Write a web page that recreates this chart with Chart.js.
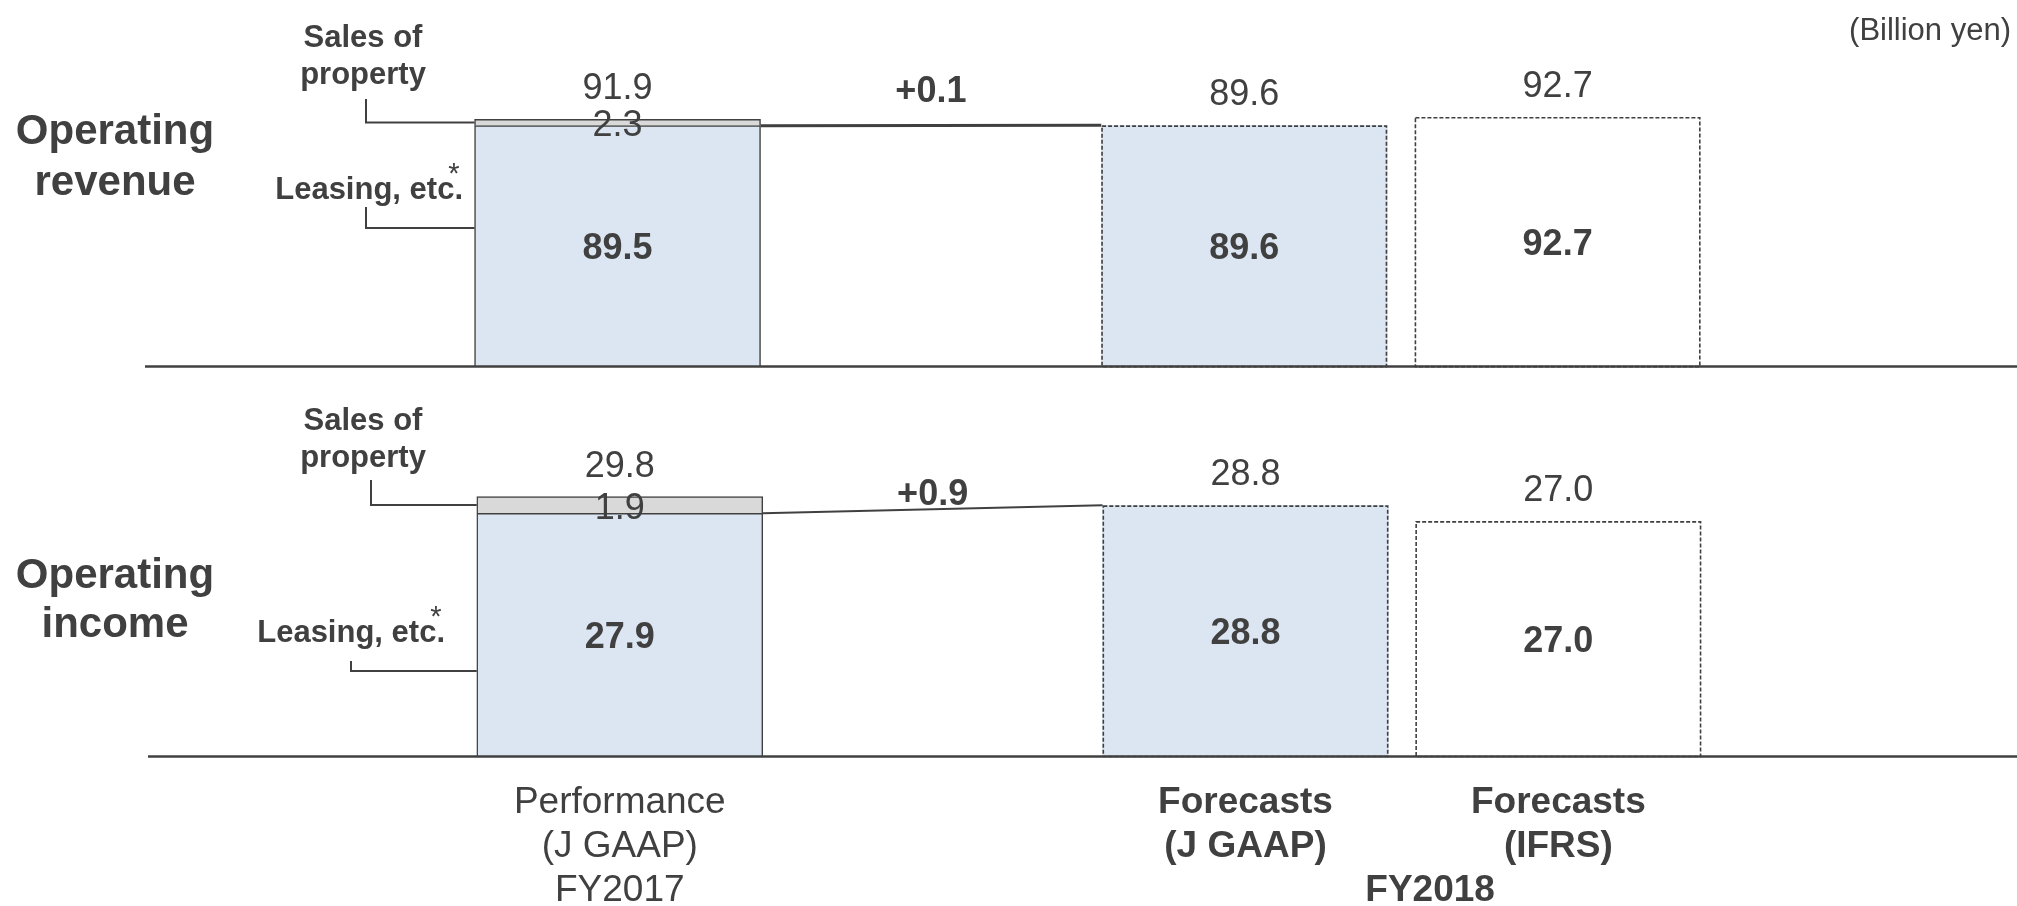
<!DOCTYPE html>
<html>
<head>
<meta charset="utf-8">
<title>Operating revenue and operating income</title>
<script src="https://cdn.jsdelivr.net/npm/chart.js@4.4.0/dist/chart.umd.min.js"></script>
<style>
  html, body { margin: 0; padding: 0; background: #fff; overflow: hidden; }
  #page { position: relative; width: 2017px; height: 906px; }
  canvas { position: absolute; left: 0; }
  #revenueChart { top: 0; }
  #incomeChart { top: 400px; }
</style>
</head>
<body>
<div id="page">
  <canvas id="revenueChart" width="2017" height="400"></canvas>
  <canvas id="incomeChart" width="2017" height="506"></canvas>
</div>
<script>
// x slots for the three bars; slot 2 stays empty for the change label
const slots = [1, 3, 4];
const changeSlot = 2;
const categoryLabels = [
  ['Performance', '(J GAAP)', 'FY2017'],
  ['Forecasts', '(J GAAP)'],
  ['Forecasts', '(IFRS)']
];
const yearLabel = ['', '', 'FY2018'];
const yearSlot = 3.59;
const isForecast = [false, true, true];

// Operating revenue (billion yen)
const revenueLeasing = [89.5, 89.6, null];
const revenueSales = [2.3, null, null];
const revenueIfrs = [null, null, 92.7];
const revenueTotals = [91.9, 89.6, 92.7];

// Operating income (billion yen)
const incomeLeasing = [27.9, 28.8, null];
const incomeSales = [1.9, null, null];
const incomeIfrs = [null, null, 27.0];
const incomeTotals = [29.8, 28.8, 27.0];

const FONT = "'Liberation Sans', Arial, sans-serif";
const TEXT = '#404040';
const BLUE = '#DCE6F2';
const GREY = '#D9D9D9';

function font(size, weight) {
  return (weight || 'normal') + ' ' + size + 'px ' + FONT;
}

function drawText(ctx, str, x, y, f, align, baseline) {
  ctx.font = f;
  ctx.fillStyle = TEXT;
  ctx.textAlign = align || 'center';
  ctx.textBaseline = baseline || 'middle';
  // 'middle' sits the digits a little high, nudge them onto the centre line
  ctx.fillText(str, x, baseline ? y : y + 3);
}

function drawLine(ctx, pts, width) {
  ctx.lineWidth = width;
  ctx.strokeStyle = TEXT;
  ctx.beginPath();
  pts.forEach((p, i) => i ? ctx.lineTo(p[0], p[1]) : ctx.moveTo(p[0], p[1]));
  ctx.stroke();
}

// baseline, dashed forecast outlines, connector, value labels and side notes
const panelDecor = {
  id: 'panelDecor',
  afterDatasetsDraw(chart, args, o) {
    const ctx = chart.ctx;
    const xs = chart.scales.x, ys = chart.scales.y;
    const area = chart.chartArea;
    const props = (di, i) => chart.getDatasetMeta(di).data[i].getProps(['x', 'y', 'base', 'width'], true);
    ctx.save();

    // forecast bars get a dashed outline
    ctx.setLineDash([4, 2]);
    ctx.strokeStyle = TEXT;
    ctx.lineWidth = 1.6;
    [o.leasing, o.sales, o.ifrs].forEach((vals, di) => {
      vals.forEach((v, i) => {
        if (v == null || !isForecast[i]) return;
        const p = props(di, i);
        ctx.strokeRect(p.x - p.width / 2 + 0.8, p.y + 0.8, p.width - 1.6, p.base - p.y - 0.8);
      });
    });
    ctx.setLineDash([]);

    const zero = ys.getPixelForValue(0);
    drawLine(ctx, [[area.left, zero], [area.right, zero]], 2.5);

    // change in leasing between performance and forecast
    const a = props(0, 0), b = props(0, 1);
    drawLine(ctx, [[a.x + a.width / 2, a.y], [b.x - b.width / 2, b.y]], o.connectorWidth);
    const diff = o.leasing[1] - o.leasing[0];
    const cx = xs.getPixelForValue(changeSlot);
    drawText(ctx, (diff >= 0 ? '+' : '') + diff.toFixed(1), cx, (a.y + b.y) / 2 - o.changeLift, font(36, 'bold'));

    // totals above each bar
    o.totals.forEach((t, i) => {
      drawText(ctx, t.toFixed(1), xs.getPixelForValue(slots[i]), ys.getPixelForValue(t) - 33, font(36));
    });
    // segment values
    o.leasing.forEach((v, i) => {
      if (v == null) return;
      const p = props(0, i);
      drawText(ctx, v.toFixed(1), p.x, (p.y + p.base) / 2, font(36, 'bold'));
    });
    o.ifrs.forEach((v, i) => {
      if (v == null) return;
      const p = props(2, i);
      drawText(ctx, v.toFixed(1), p.x, (p.y + p.base) / 2, font(36, 'bold'));
    });
    o.sales.forEach((v, i) => {
      if (v == null) return;
      const p = props(1, i);
      drawText(ctx, v.toFixed(1), p.x, (p.y + p.base) / 2 + 1, font(36));
    });

    // panel title and segment notes
    const n = o.notes;
    n.title.forEach((s, i) => drawText(ctx, s, n.titleX, n.titleY[i], font(42, 'bold'), 'center', 'alphabetic'));
    ['Sales of', 'property'].forEach((s, i) => drawText(ctx, s, n.salesX, n.salesY[i], font(31, 'bold'), 'center', 'alphabetic'));
    drawText(ctx, 'Leasing, etc.', n.leasingRight, n.leasingY, font(31, 'bold'), 'right', 'alphabetic');
    drawText(ctx, '*', n.leasingRight - 9, n.leasingY - 16, font(29), 'center', 'alphabetic');

    const s = props(1, 0);
    const sy = (s.y + s.base) / 2;
    drawLine(ctx, [[n.salesLeaderX, n.salesLeaderTop], [n.salesLeaderX, sy], [s.x - s.width / 2, sy]], 2);
    drawLine(ctx, [[n.leasingLeaderX, n.leasingLeaderTop], [n.leasingLeaderX, n.leasingLeaderY], [a.x - a.width / 2, n.leasingLeaderY]], 2);

    if (o.unit) drawText(ctx, o.unit, area.right - 6, 40, font(31), 'right', 'alphabetic');
    ctx.restore();
  }
};

const tickValues = slots.concat([yearSlot]);
const tickLabels = categoryLabels.concat([yearLabel]);

function xAxis(showLabels) {
  const axis = {
    type: 'linear', stacked: true, bounds: 'data', offset: false,
    min: -0.508, max: 5.466,
    display: showLabels,
    grid: { display: false, drawTicks: false, offset: false },
    border: { display: false }
  };
  if (showLabels) {
    axis.ticks = {
      autoSkip: false, maxRotation: 0, minRotation: 0, padding: 24, color: TEXT,
      font: c => ({ family: FONT, size: 37, lineHeight: 1.19, weight: c.index === 0 ? 'normal' : 'bold' }),
      callback: v => tickLabels[tickValues.indexOf(v)]
    };
    axis.afterBuildTicks = s => { s.ticks = tickValues.map(value => ({ value })); };
    axis.afterFit = s => { s.height = 149.5; };
  }
  return axis;
}

function panel(id, p) {
  const pts = vals => slots.map((x, i) => ({ x, y: vals[i] }));
  return new Chart(document.getElementById(id), {
    type: 'bar',
    data: {
      datasets: [
        { label: 'Leasing, etc.', data: pts(p.leasing), backgroundColor: BLUE, borderColor: TEXT,
          borderWidth: c => isForecast[c.dataIndex] ? 0 : 1.5 },
        { label: 'Sales of property', data: pts(p.sales), backgroundColor: GREY, borderColor: TEXT, borderWidth: 1.5 },
        { label: 'IFRS', data: pts(p.ifrs), backgroundColor: '#FFFFFF', borderWidth: 0 }
      ]
    },
    options: {
      responsive: false,
      animation: false,
      devicePixelRatio: 1,
      layout: { padding: p.padding },
      datasets: { bar: { barThickness: 286 } },
      plugins: {
        legend: { display: false },
        tooltip: { enabled: false },
        panelDecor: p
      },
      scales: {
        x: xAxis(p.showLabels),
        y: { display: false, stacked: true, min: 0, max: p.yMax }
      }
    },
    plugins: [panelDecor]
  });
}

panel('revenueChart', {
  leasing: revenueLeasing, sales: revenueSales, ifrs: revenueIfrs, totals: revenueTotals,
  yMax: 130, padding: { left: 145, right: 0, top: 16.6, bottom: 33.4 },
  showLabels: false, connectorWidth: 3, changeLift: 36, unit: '(Billion yen)',
  notes: {
    title: ['Operating', 'revenue'], titleX: 115, titleY: [144, 195],
    salesX: 363, salesY: [47, 84], salesLeaderX: 366, salesLeaderTop: 99,
    leasingRight: 463, leasingY: 199, leasingLeaderX: 366, leasingLeaderTop: 207, leasingLeaderY: 228
  }
});

panel('incomeChart', {
  leasing: incomeLeasing, sales: incomeSales, ifrs: incomeIfrs, totals: incomeTotals,
  yMax: 40, padding: { left: 148, right: 0, top: 7.7, bottom: 0 },
  showLabels: true, connectorWidth: 2, changeLift: 17,
  notes: {
    title: ['Operating', 'income'], titleX: 115, titleY: [188, 237],
    salesX: 363, salesY: [30, 67], salesLeaderX: 371, salesLeaderTop: 80,
    leasingRight: 445, leasingY: 242, leasingLeaderX: 351, leasingLeaderTop: 261, leasingLeaderY: 271
  }
});
</script>
</body>
</html>
